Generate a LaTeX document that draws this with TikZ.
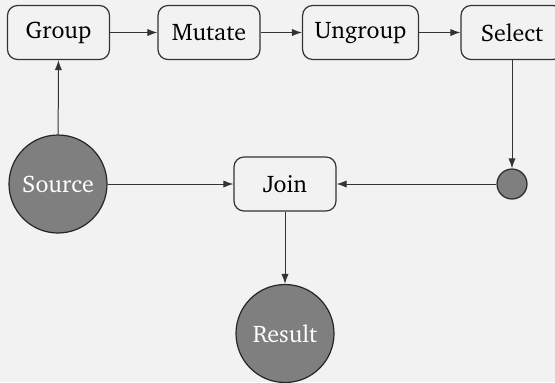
\documentclass[tikz,border=0pt]{standalone}
\usepackage[T1]{fontenc}
\usepackage{charter}
\usetikzlibrary{arrows.meta}
\definecolor{bgcol}{HTML}{F2F2F2}
\definecolor{linecol}{HTML}{333333}
\definecolor{dotfill}{HTML}{7F7F7F}
\begin{document}
\begin{tikzpicture}[x=0.5pt,y=-0.5pt,
  font=\fontsize{12}{14}\selectfont,
  stagebox/.style={draw=linecol, line width=0.6pt, fill=bgcol, rounded corners=5pt,
    minimum width=51pt, minimum height=27pt, inner xsep=6pt, text=black},
  endpoint/.style={circle, draw=black!85, line width=0.6pt, fill=dotfill,
    minimum size=49pt, inner sep=0pt, text=white},
  junction/.style={circle, draw=black!85, line width=0.6pt, fill=dotfill,
    minimum size=15pt, inner sep=0pt},
  flow/.style={draw=linecol, line width=0.5pt, -{Latex[length=5pt,width=3.6pt]}}]
  % canvas
  \fill[bgcol] (0,0) rectangle (555,382);
  \useasboundingbox (0,0) rectangle (555,382);
  \clip (0,0) rectangle (555,382);

  % top row of processing stages
  \node[stagebox] (group)   at (58.5,32.5) {Group};
  \node[stagebox] (mutate)  at (209,32.5)  {Mutate};
  \node[stagebox] (ungroup) at (360.5,32.5) {Ungroup};
  \node[stagebox] (select)  at (512,32.5)  {Select};

  % middle row
  \node[endpoint] (source) at (58,184) {Source};
  \node[stagebox] (join)   at (285,184) {Join};
  \node[junction] (dot)    at (512,184) {};

  % output
  \node[endpoint] (result) at (285,333.5) {Result};

  % connectors
  \draw[flow] (group) -- (mutate);
  \draw[flow] (mutate) -- (ungroup);
  \draw[flow] (ungroup) -- (select);
  \draw[flow] (source) -- (group);
  \draw[flow] (select) -- (dot);
  \draw[flow] (dot) -- (join);
  \draw[flow] (source) -- (join);
  \draw[flow] (join) -- (result);
\end{tikzpicture}
\end{document}
